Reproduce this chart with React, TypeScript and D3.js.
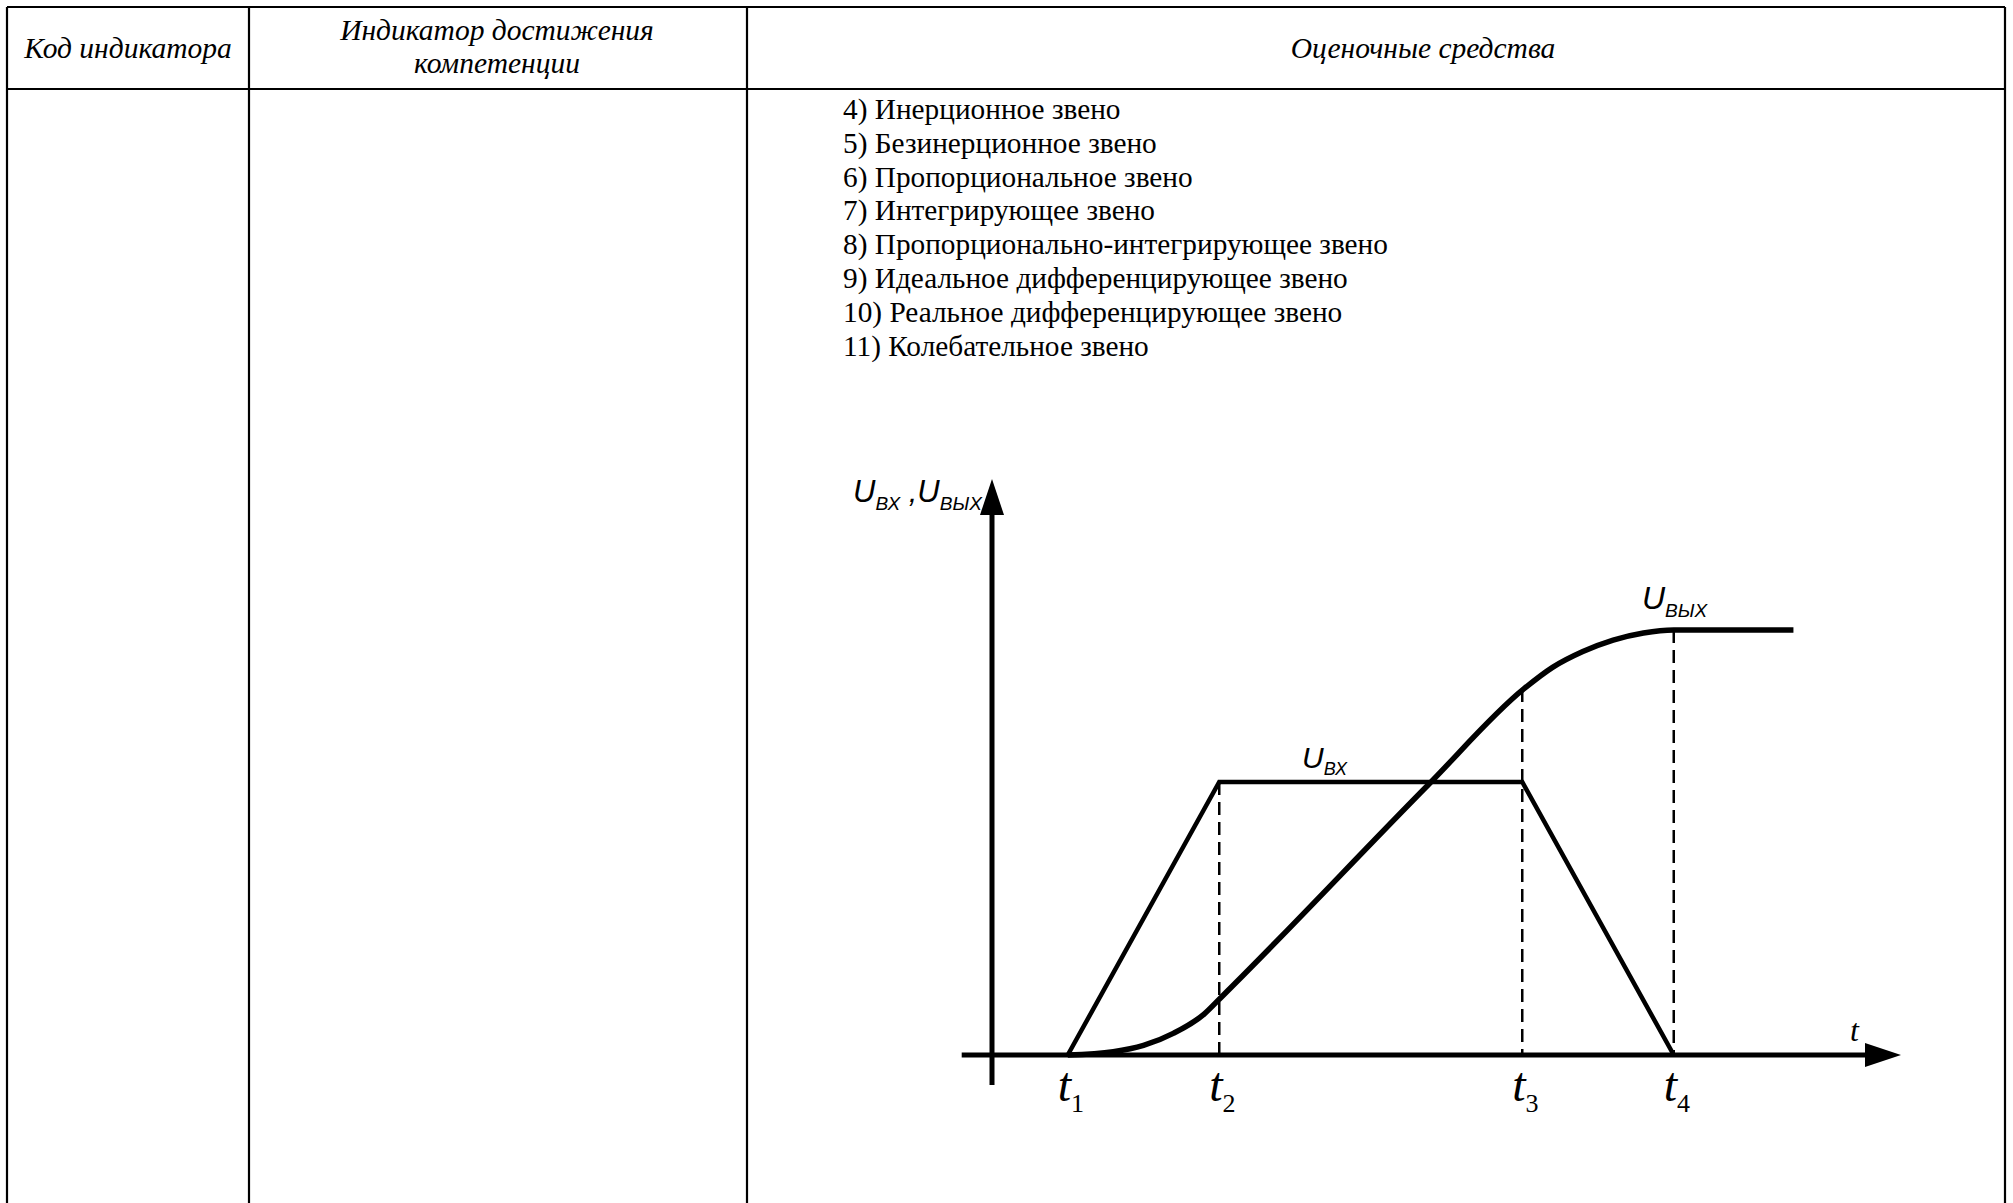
import React from 'react';
import * as d3 from 'd3';

// header cells of the table
const headerLabels = ['Код индикатора', 'Индикатор достижения', 'компетенции', 'Оценочные средства'];

// list items in the right cell
const listItems = [
  '4) Инерционное звено',
  '5) Безинерционное звено',
  '6) Пропорциональное звено',
  '7) Интегрирующее звено',
  '8) Пропорционально-интегрирующее звено',
  '9) Идеальное дифференцирующее звено',
  '10) Реальное дифференцирующее звено',
  '11) Колебательное звено',
];

// time marks t1..t4
const tickTimes = [0.5, 1.5, 3.5, 4.5];
const tickLabels = ['1', '2', '3', '4'];

// input signal U_вх (trapezoid)
const inputT = [0.5, 1.5, 3.5, 4.5];
const inputU = [0, 1, 1, 0];

// output signal U_вых
const outputT = [0.5, 0.8, 1.0, 1.2, 1.4, 1.51, 2.88, 3.51, 3.7, 3.9, 4.1, 4.3, 4.5, 5.29];
const outputU = [0, 0.012, 0.035, 0.08, 0.15, 0.21, 0.99, 1.341, 1.42, 1.478, 1.52, 1.546, 1.557, 1.557];

// dashed drop lines: at t2 from U_вх, at t3 and t4 from U_вых
const dropT = [1.5, 3.5, 4.5];
const dropU = [1, 1.341, 1.557];

const serif = '"Liberation Serif", "Times New Roman", serif';
const sans = '"Liberation Sans", Arial, sans-serif';

export default function App() {
  const W = 2013;
  const H = 1203;

  const x = d3.scaleLinear().domain([0, 6]).range([992, 1901]);
  const y = d3.scaleLinear().domain([0, 2]).range([1055, 509]);

  const inputData = inputT.map((t, i) => [t, inputU[i]] as [number, number]);
  const outputData = outputT.map((t, i) => [t, outputU[i]] as [number, number]);

  const straight = d3
    .line<[number, number]>()
    .x((d) => x(d[0]))
    .y((d) => y(d[1]));
  const smooth = d3
    .line<[number, number]>()
    .x((d) => x(d[0]))
    .y((d) => y(d[1]))
    .curve(d3.curveMonotoneX);

  const x0 = x(0);
  const y0 = y(0);
  const xStart = x(-0.2);
  const xTip = x(6);
  const yTip = y(2.11);
  const yBottom = y(-0.11);
  const ah = 36; // arrow head length
  const aw = 12; // arrow head half width

  const cols = [7, 249, 747, 2005];
  const top = 7;
  const headBottom = 89;

  return (
    <svg
      width={W}
      height={H}
      style={{ position: 'absolute', left: 0, top: 0, background: '#fff' }}
    >
      <rect x={0} y={0} width={W} height={H} fill="#fff" />

      {/* table grid */}
      <g stroke="#000" strokeWidth={2.2}>
        <line x1={cols[0]} x2={cols[3]} y1={top} y2={top} />
        <line x1={cols[0]} x2={cols[3]} y1={headBottom} y2={headBottom} />
        {cols.map((c) => (
          <line key={c} x1={c} x2={c} y1={top} y2={H} />
        ))}
      </g>

      {/* header texts */}
      <g fontFamily={serif} fontStyle="italic" fontSize={29.5} textAnchor="middle" fill="#000">
        <text x={128} y={58}>{headerLabels[0]}</text>
        <text x={497} y={40}>{headerLabels[1]}</text>
        <text x={497} y={73}>{headerLabels[2]}</text>
        <text x={1423} y={58}>{headerLabels[3]}</text>
      </g>

      {/* list */}
      <g fontFamily={serif} fontSize={29.3} fill="#000">
        {listItems.map((s, i) => (
          <text key={s} x={843} y={119 + i * 33.8}>
            {s}
          </text>
        ))}
      </g>

      {/* dashed drop lines */}
      <g stroke="#000" strokeWidth={2.5} strokeDasharray="13,7">
        {dropT.map((t, i) => (
          <line key={t} x1={x(t)} x2={x(t)} y1={y(dropU[i])} y2={y0} />
        ))}
      </g>

      {/* axes */}
      <g stroke="#000" strokeWidth={5}>
        <line x1={x0} x2={x0} y1={yBottom} y2={yTip + ah - 1} />
        <line x1={xStart} x2={xTip - ah + 1} y1={y0} y2={y0} />
      </g>
      <path d={`M${x0},${yTip} L${x0 - aw},${yTip + ah} L${x0 + aw},${yTip + ah} Z`} fill="#000" />
      <path d={`M${xTip},${y0} L${xTip - ah},${y0 - aw} L${xTip - ah},${y0 + aw} Z`} fill="#000" />

      {/* signals */}
      <path d={straight(inputData) || ''} fill="none" stroke="#000" strokeWidth={4.5} strokeLinejoin="miter" />
      <path d={smooth(outputData) || ''} fill="none" stroke="#000" strokeWidth={5.5} />

      {/* axis labels */}
      <text x={853} y={502} fontFamily={sans} fontStyle="italic" fontSize={31} fill="#000">
        U<tspan dy={8} fontSize={19}>ВХ</tspan>
        <tspan dy={-8} fontSize={31}> ,U</tspan>
        <tspan dy={8} fontSize={19}>ВЫХ</tspan>
      </text>
      <text x={1302} y={768} fontFamily={sans} fontStyle="italic" fontSize={30} fill="#000">
        U<tspan dy={7} fontSize={18}>ВХ</tspan>
      </text>
      <text x={1642} y={609} fontFamily={sans} fontStyle="italic" fontSize={32} fill="#000">
        U<tspan dy={8} fontSize={19}>ВЫХ</tspan>
      </text>
      <text x={1850} y={1041} fontFamily={serif} fontStyle="italic" fontSize={32} fill="#000">
        t
      </text>

      {/* t1..t4 */}
      {tickTimes.map((t, i) => (
        <text key={t} x={x(t) - 10} y={1101} fontFamily={serif} fontSize={48} fill="#000">
          <tspan fontStyle="italic">t</tspan>
          <tspan dy={11} fontSize={26}>
            {tickLabels[i]}
          </tspan>
        </text>
      ))}
    </svg>
  );
}
